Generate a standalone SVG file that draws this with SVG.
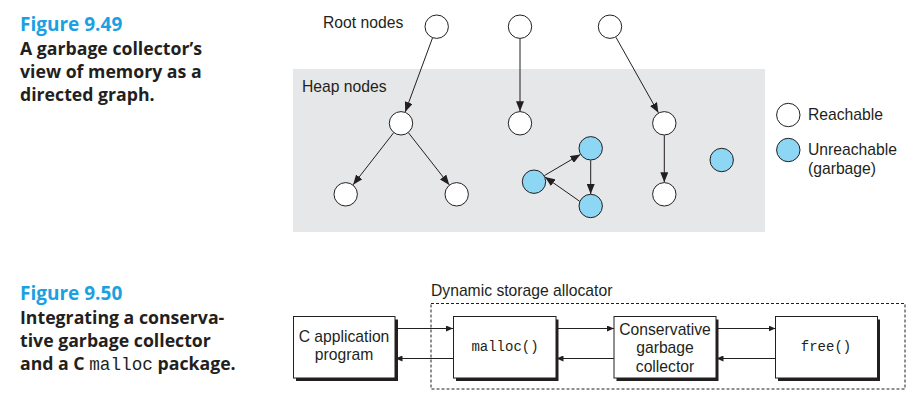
<svg xmlns="http://www.w3.org/2000/svg" width="914" height="406" viewBox="0 0 914 406">
  <defs>
    <marker id="ah" markerUnits="userSpaceOnUse" markerWidth="10" markerHeight="8" viewBox="0 0 10 8" refX="10" refY="4" orient="auto">
      <path d="M0,0 L10,4 L0,8 Z" fill="#231f20"/>
    </marker>
    <marker id="ahs" markerUnits="userSpaceOnUse" markerWidth="7" markerHeight="6" viewBox="0 0 7 6" refX="7" refY="3" orient="auto">
      <path d="M0,0 L7,3 L0,6 Z" fill="#231f20"/>
    </marker>
  </defs>
  <style>
    .fig { font-family: "Open Sans", "Liberation Sans", sans-serif; font-weight: 700; font-size: 19px; fill: #1ba1e2; }
    .cap { font-family: "Open Sans", "Liberation Sans", sans-serif; font-weight: 700; font-size: 17.7px; fill: #231f20; }
    .capmono { font-family: "Liberation Mono", monospace; font-weight: 400; font-size: 17.7px; fill: #231f20; }
    .lbl { font-family: "Liberation Sans", Arial, sans-serif; font-size: 15.7px; fill: #231f20; }
    .mono { font-family: "Liberation Mono", monospace; font-size: 14px; fill: #231f20; }
    .node { fill: #ffffff; stroke: #231f20; stroke-width: 1; }
    .garb { fill: #8dd7f5; stroke: #231f20; stroke-width: 1; }
    .edge { stroke: #231f20; stroke-width: 1; fill: none; marker-end: url(#ah); }
    .flow { stroke: #231f20; stroke-width: 1; fill: none; marker-end: url(#ahs); }
    .box { fill: #ffffff; stroke: #231f20; stroke-width: 1; }
    .shadow { fill: #231f20; }
  </style>

  <!-- Figure 9.49 caption -->
  <text class="fig" x="20" y="31">Figure 9.49</text>
  <text class="cap" x="20" y="55">A garbage collector’s</text>
  <text class="cap" x="20" y="78">view of memory as a</text>
  <text class="cap" x="20" y="101">directed graph.</text>

  <!-- Heap region -->
  <rect x="293" y="69" width="472" height="163" fill="#e6e7e8"/>
  <text class="lbl" x="302" y="92">Heap nodes</text>
  <text class="lbl" x="323" y="28">Root nodes</text>

  <!-- Graph edges -->
  <g id="edges">
    <line class="edge" x1="432.5" y1="37.9" x2="405.2" y2="112.0"/>
    <line class="edge" x1="520" y1="38.7" x2="520" y2="111.3"/>
    <line class="edge" x1="615.9" y1="37.2" x2="658.4" y2="112.8"/>
    <line class="edge" x1="393.6" y1="132.8" x2="353.1" y2="184.8"/>
    <line class="edge" x1="408.4" y1="132.7" x2="449.3" y2="184.9"/>
    <line class="edge" x1="664.3" y1="135.3" x2="664.3" y2="182.3"/>
    <line class="edge" x1="544.3" y1="175.6" x2="580.4" y2="154.4"/>
    <line class="edge" x1="590.7" y1="160.3" x2="590.7" y2="194"/>
    <line class="edge" x1="579.7" y1="201.3" x2="545.0" y2="177.0"/>
  </g>

  <!-- Root nodes -->
  <g id="root1"><circle class="node" cx="436.7" cy="26.7" r="11.7"/></g>
  <g id="root2"><circle class="node" cx="520" cy="26.7" r="11.7"/></g>
  <g id="root3"><circle class="node" cx="610" cy="26.7" r="11.7"/></g>

  <!-- Heap nodes -->
  <g id="h1"><circle class="node" cx="401" cy="123.3" r="11.7"/></g>
  <g id="h2"><circle class="node" cx="520" cy="123.3" r="11.7"/></g>
  <g id="h3"><circle class="node" cx="664.3" cy="123.3" r="11.7"/></g>
  <g id="h4"><circle class="node" cx="345.7" cy="194.3" r="11.7"/></g>
  <g id="h5"><circle class="node" cx="456.7" cy="194.3" r="11.7"/></g>
  <g id="h6"><circle class="node" cx="664.3" cy="194.3" r="11.7"/></g>
  <g id="g1"><circle class="garb" cx="590.7" cy="148.3" r="11.7"/></g>
  <g id="g2"><circle class="garb" cx="534" cy="181.7" r="11.7"/></g>
  <g id="g3"><circle class="garb" cx="590.7" cy="206" r="11.7"/></g>
  <g id="g4"><circle class="garb" cx="721.7" cy="160" r="11.7"/></g>

  <!-- Legend -->
  <g id="legend">
    <circle class="node" cx="788.3" cy="115" r="11.7"/>
    <text class="lbl" x="808" y="120">Reachable</text>
    <circle class="garb" cx="788.3" cy="150" r="11.7"/>
    <text class="lbl" x="808" y="155">Unreachable</text>
    <text class="lbl" x="808" y="174">(garbage)</text>
  </g>

  <!-- Figure 9.50 caption -->
  <text class="fig" x="20" y="300">Figure 9.50</text>
  <text class="cap" x="20" y="324">Integrating a conserva-</text>
  <text class="cap" x="20" y="347">tive garbage collector</text>
  <text class="cap" x="20" y="370">and a C <tspan class="capmono">malloc</tspan> package.</text>

  <!-- Dynamic storage allocator boundary -->
  <text class="lbl" x="431" y="296">Dynamic storage allocator</text>
  <rect x="431" y="303.5" width="474" height="85.5" fill="none" stroke="#231f20" stroke-width="1" stroke-dasharray="3,2"/>

  <!-- Flow connectors -->
  <g id="flows">
    <line class="flow" x1="395" y1="328.5" x2="453" y2="328.5"/>
    <line class="flow" x1="453" y1="358.5" x2="395.5" y2="358.5"/>
    <line class="flow" x1="556" y1="328.5" x2="614" y2="328.5"/>
    <line class="flow" x1="614" y1="358.5" x2="556.5" y2="358.5"/>
    <line class="flow" x1="716" y1="328.5" x2="775.5" y2="328.5"/>
    <line class="flow" x1="775.5" y1="358.5" x2="716.5" y2="358.5"/>
  </g>

  <!-- Boxes -->
  <g id="app">
    <rect class="shadow" x="296" y="319.5" width="102" height="61.5"/>
    <rect class="box" x="293.5" y="316.5" width="101.5" height="61.5"/>
    <text class="lbl" x="344" y="342" text-anchor="middle">C application</text>
    <text class="lbl" x="344" y="360" text-anchor="middle">program</text>
  </g>
  <g id="malloc">
    <rect class="shadow" x="456" y="319.5" width="102.5" height="61.5"/>
    <rect class="box" x="453.5" y="316.5" width="102.5" height="61.5"/>
    <text class="mono" x="505" y="351" text-anchor="middle">malloc()</text>
  </g>
  <g id="collector">
    <rect class="shadow" x="616.5" y="319.5" width="102" height="61.5"/>
    <rect class="box" x="614" y="316.5" width="102" height="61.5"/>
    <text class="lbl" x="665" y="335" text-anchor="middle">Conservative</text>
    <text class="lbl" x="665" y="353" text-anchor="middle">garbage</text>
    <text class="lbl" x="665" y="372" text-anchor="middle">collector</text>
  </g>
  <g id="free">
    <rect class="shadow" x="778" y="319.5" width="102" height="61.5"/>
    <rect class="box" x="775.5" y="316.5" width="102" height="61.5"/>
    <text class="mono" x="826" y="351" text-anchor="middle">free()</text>
  </g>
</svg>
